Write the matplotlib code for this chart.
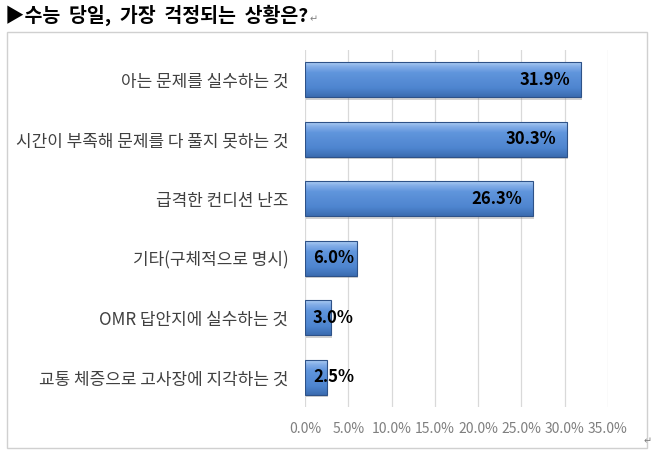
import numpy as np
import matplotlib
matplotlib.use('Agg')
import matplotlib.pyplot as plt
from matplotlib.patches import Rectangle
from matplotlib.colors import LinearSegmentedColormap

plt.rcParams['font.family'] = ['Noto Sans CJK KR', 'DejaVu Sans']

# Data
categories = ['아는 문제를 실수하는 것',
              '시간이 부족해 문제를 다 풀지 못하는 것',
              '급격한 컨디션 난조',
              '기타(구체적으로 명시)',
              'OMR 답안지에 실수하는 것',
              '교통 체증으로 고사장에 지각하는 것']
values = [31.9, 30.3, 26.3, 6.0, 3.0, 2.5]
xticks = [0, 5, 10, 15, 20, 25, 30, 35]
title = '▶수능  당일,  가장  걱정되는  상황은?'

W, H = 655, 454
fig = plt.figure(figsize=(W / 100, H / 100), dpi=100)

# outer chart frame
fig.patches.append(Rectangle((7 / W, 1 - 448 / H), (647 - 7) / W, (448 - 32) / H,
                             transform=fig.transFigure, fill=False,
                             edgecolor='#d0d0d0', linewidth=1.0))

ax = fig.add_axes([305 / W, 1 - 407 / H, (608 - 305) / W, (407 - 50) / H])

# bar gradient (top light -> bottom darker)
grad_cmap = LinearSegmentedColormap.from_list('bevel', [
    (0.0, '#acccf2'), (0.12, '#84aee8'), (0.3, '#6095dc'),
    (0.75, '#4e85cf'), (1.0, '#3b6cb0')])
grad = np.linspace(0, 1, 64).reshape(-1, 1)

bar_h = 0.58
for i, v in enumerate(values):
    y0 = i - bar_h / 2
    # soft shadow
    ax.add_patch(Rectangle((0.12, y0 + 0.05), v, bar_h,
                           facecolor='#7f7f7f', edgecolor='none', alpha=0.35, zorder=2))
    rect = Rectangle((0, y0), v, bar_h, facecolor='none',
                     edgecolor='#2e5288', linewidth=0.8, zorder=4)
    ax.add_patch(rect)
    im = ax.imshow(grad, cmap=grad_cmap, aspect='auto',
                   extent=[0, v, i + bar_h / 2, i - bar_h / 2],
                   zorder=3, interpolation='bilinear')
    im.set_clip_path(rect)

    # value label: inside end, or from the base when it does not fit
    label = f'{v:.1f}%'
    if v >= 8:
        ax.text(v - 1.27, i, label, ha='right', va='center',
                fontsize=12, fontweight='bold', color='black', zorder=5)
    else:
        ax.text(0.92, i, label, ha='left', va='center',
                fontsize=12, fontweight='bold', color='black', zorder=5)

ax.set_xlim(0, 35)
ax.set_ylim(len(values) - 0.5, -0.5)
ax.set_xticks(xticks)
ax.set_xticklabels([f'{t:.1f}%' for t in xticks], color='#7f7f7f', fontsize=10)
ax.set_yticks(range(len(categories)))
ax.set_yticklabels(categories, color='#404040', fontsize=12.2)
ax.tick_params(axis='both', length=0)
ax.tick_params(axis='x', pad=11)
ax.tick_params(axis='y', pad=12)
ax.grid(True, axis='x', color='#d9d9d9', linewidth=0.9, zorder=0)
ax.set_axisbelow(True)
for s in ax.spines.values():
    s.set_visible(False)

# title
fig.text(5 / W, 1 - 15 / H, title, fontsize=14, fontweight='bold',
         color='black', ha='left', va='center')
fig.text(310 / W, 1 - 19 / H, '↵', fontsize=7, color='#808080',
         ha='left', va='center', family=['DejaVu Sans'])
fig.text(644 / W, 1 - 441 / H, '↵', fontsize=7, color='#808080',
         ha='left', va='center', family=['DejaVu Sans'])

fig.savefig('out.png', dpi=100)
